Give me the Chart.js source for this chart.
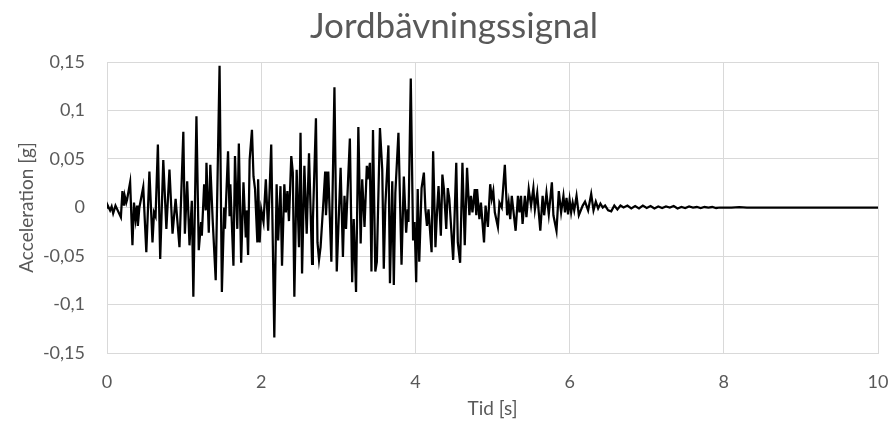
<!DOCTYPE html>
<html>
<head>
<meta charset="utf-8">
<script src="https://cdn.jsdelivr.net/npm/chart.js@4/dist/chart.umd.min.js"></script>
<style>
  html, body { margin: 0; padding: 0; background: #fff; }
  #wrap { width: 893px; height: 423px; }
</style>
</head>
<body>
<div id="wrap"><canvas id="chartSignal" width="893" height="423"></canvas></div>
<script>
/* =========================
   DATA
========================= */

// tid [s]
const timeS = [
  0.00, 0.01, 0.04, 0.06, 0.08, 0.11, 0.18, 0.20, 0.22, 0.23, 0.25, 0.26, 0.30, 0.33, 0.35, 0.37, 0.39, 0.40, 0.42, 0.47,
  0.51, 0.55, 0.59, 0.61, 0.63, 0.66, 0.69, 0.73, 0.77, 0.81, 0.85, 0.89, 0.94, 0.99, 1.01, 1.04, 1.07, 1.10, 1.12, 1.16,
  1.19, 1.22, 1.23, 1.26, 1.28, 1.29, 1.32, 1.34, 1.37, 1.41, 1.46, 1.49, 1.52, 1.53, 1.57, 1.59, 1.60, 1.64, 1.66, 1.69,
  1.71, 1.74, 1.77, 1.80, 1.81, 1.83, 1.85, 1.88, 1.90, 1.92, 1.95, 1.96, 1.98, 2.00, 2.03, 2.06, 2.09, 2.13, 2.17, 2.20,
  2.22, 2.25, 2.27, 2.30, 2.32, 2.34, 2.36, 2.39, 2.41, 2.43, 2.46, 2.49, 2.51, 2.53, 2.56, 2.59, 2.62, 2.66, 2.67, 2.71,
  2.73, 2.75, 2.77, 2.81, 2.83, 2.84, 2.87, 2.91, 2.95, 2.98, 3.03, 3.06, 3.08, 3.10, 3.15, 3.18, 3.20, 3.23, 3.26, 3.29,
  3.31, 3.34, 3.37, 3.38, 3.41, 3.43, 3.45, 3.48, 3.50, 3.54, 3.57, 3.59, 3.61, 3.65, 3.67, 3.70, 3.72, 3.74, 3.78, 3.82,
  3.85, 3.88, 3.90, 3.91, 3.94, 3.97, 3.99, 4.01, 4.03, 4.05, 4.08, 4.11, 4.13, 4.15, 4.17, 4.21, 4.23, 4.26, 4.28, 4.30,
  4.33, 4.35, 4.37, 4.40, 4.42, 4.44, 4.49, 4.53, 4.55, 4.58, 4.61, 4.64, 4.67, 4.70, 4.72, 4.74, 4.77, 4.79, 4.80, 4.83,
  4.85, 4.89, 4.91, 4.94, 4.97, 4.99, 5.01, 5.03, 5.07, 5.09, 5.12, 5.16, 5.19, 5.21, 5.23, 5.25, 5.30, 5.33, 5.35, 5.37,
  5.39, 5.42, 5.44, 5.47, 5.50, 5.53, 5.55, 5.58, 5.60, 5.62, 5.65, 5.67, 5.70, 5.73, 5.77, 5.79, 5.83, 5.86, 5.89, 5.92,
  5.94, 5.96, 5.98, 6.00, 6.02, 6.04, 6.06, 6.09, 6.12, 6.17, 6.20, 6.24, 6.28, 6.31, 6.34, 6.37, 6.40, 6.43, 6.46, 6.50,
  6.54, 6.58, 6.62, 6.66, 6.70, 6.75, 6.80, 6.85, 6.90, 6.95, 7.00, 7.05, 7.10, 7.15, 7.20, 7.25, 7.30, 7.35, 7.40, 7.45,
  7.50, 7.55, 7.60, 7.65, 7.70, 7.75, 7.80, 7.85, 7.90, 7.95, 8.00, 8.10, 8.20, 8.30, 8.40, 8.60, 8.80, 9.00, 9.20, 9.40,
  9.60, 9.80, 10.00
];

// acceleration [g]
const accelG = [
  0.000, 0.002, -0.003, 0.001, -0.006, 0.002, -0.010, 0.017, 0.002, 0.012, 0.005, 0.008, 0.026, -0.039, 0.005, -0.012, 0.002, -0.019, 0.000, 0.021,
  -0.046, 0.037, -0.036, -0.005, -0.009, 0.065, -0.053, 0.049, -0.022, 0.039, -0.027, 0.009, -0.041, 0.078, -0.027, 0.027, -0.039, 0.007, -0.092, 0.094,
  -0.044, -0.015, -0.029, 0.024, -0.003, 0.046, -0.026, 0.044, -0.012, -0.075, 0.146, -0.087, 0.000, -0.022, 0.058, -0.009, 0.024, -0.060, 0.053, -0.022,
  0.066, -0.057, 0.026, -0.031, -0.003, -0.049, 0.049, 0.080, 0.032, 0.019, -0.036, 0.029, -0.036, -0.002, -0.015, 0.029, -0.024, 0.065, -0.134, 0.024,
  -0.034, 0.022, -0.060, 0.024, -0.005, 0.017, -0.014, 0.053, 0.036, -0.092, 0.039, -0.041, 0.077, -0.068, 0.043, -0.027, 0.056, -0.058, -0.015, 0.092,
  -0.036, -0.054, -0.041, 0.010, 0.037, -0.008, 0.037, -0.056, 0.124, -0.066, 0.041, -0.051, 0.012, -0.022, 0.071, -0.077, -0.012, -0.087, 0.083, -0.037,
  0.029, -0.020, 0.043, 0.029, 0.046, -0.066, 0.080, -0.066, -0.056, 0.082, 0.039, -0.063, 0.002, 0.064, -0.078, 0.027, -0.080, 0.015, 0.077, -0.059,
  0.032, -0.026, -0.002, -0.015, 0.133, -0.034, -0.015, -0.077, 0.019, -0.056, 0.020, 0.036, -0.002, -0.019, -0.002, -0.046, 0.058, -0.041, -0.005, 0.022,
  -0.029, 0.034, 0.019, -0.022, 0.020, 0.009, -0.054, 0.046, -0.036, -0.057, 0.046, -0.039, 0.041, -0.008, 0.012, -0.005, 0.019, -0.008, 0.019, -0.012,
  0.005, -0.036, 0.002, -0.020, 0.024, 0.009, 0.017, -0.005, -0.020, 0.005, 0.000, 0.044, -0.008, 0.005, -0.012, 0.012, -0.024, 0.012, -0.005, 0.012,
  -0.017, 0.012, -0.010, 0.019, 0.002, 0.020, -0.002, 0.015, -0.005, -0.024, 0.012, -0.008, 0.015, -0.007, 0.026, -0.008, -0.024, 0.017, -0.005, 0.012,
  -0.005, 0.010, -0.007, 0.008, -0.005, 0.005, -0.003, 0.012, -0.008, 0.002, 0.006, -0.003, 0.014, -0.003, 0.006, -0.001, 0.004, 0.000, 0.002, -0.003,
  -0.004, 0.002, -0.002, 0.002, 0.000, 0.002, -0.001, 0.0015, -0.001, 0.002, -0.0005, 0.0015, -0.001, 0.001, -0.0005, 0.001, 0.000, 0.0015, -0.001, 0.0005,
  -0.0005, 0.001, 0.000, 0.0005, -0.0005, 0.0005, 0.000, 0.0005, -0.0005, 0.000, 0.000, 0.000, 0.0005, 0.000, 0.000, 0.000, 0.000, 0.000, 0.000, 0.000,
  0.000, 0.000, 0.000
];

// skalmarkeringar
const xTicks = [0, 2, 4, 6, 8, 10];
const yTicks = [-0.15, -0.1, -0.05, 0, 0.05, 0.1, 0.15];
const yTickLabels = ["-0,15", "-0,1", "-0,05", "0", "0,05", "0,1", "0,15"];

/* =========================
   CHART
========================= */

const textColor = "#595959";
const gridColor = "#d9d9d9";
const fontFamily = "Lato, 'Open Sans', sans-serif";

const points = timeS.map((t, i) => ({ x: t, y: accelG[i] }));

new Chart(document.getElementById("chartSignal"), {
  type: "line",
  data: {
    datasets: [
      {
        data: points,
        borderColor: "#000000",
        borderWidth: 2.25,
        pointRadius: 0,
        tension: 0,
        fill: false
      }
    ]
  },
  options: {
    responsive: false,
    animation: false,
    layout: { padding: { left: 15, right: 0, top: 0, bottom: 0 } },
    plugins: {
      legend: { display: false },
      tooltip: { enabled: false },
      title: {
        display: true,
        text: "Jordbävningssignal",
        color: textColor,
        font: { family: fontFamily, size: 35, weight: "normal" },
        padding: { top: 6, bottom: 14 }
      }
    },
    scales: {
      x: {
        type: "linear",
        min: 0,
        max: 10,
        afterBuildTicks: s => { s.ticks = xTicks.map(v => ({ value: v })); },
        afterFit: s => {
          s.height = 70;
          s.paddingLeft = 0;
          s.paddingRight = 15;
        },
        ticks: {
          color: textColor,
          font: { family: fontFamily, size: 18 },
          padding: 18,
          maxRotation: 0
        },
        grid: { color: gridColor, lineWidth: 1, drawTicks: false },
        border: { color: gridColor },
        title: {
          display: true,
          text: "Tid [s]",
          color: textColor,
          font: { family: fontFamily, size: 19 },
          padding: { top: 0, bottom: 3 }
        }
      },
      y: {
        min: -0.15,
        max: 0.15,
        afterBuildTicks: s => { s.ticks = yTicks.map(v => ({ value: v })); },
        afterFit: s => { s.width = 92; },
        ticks: {
          color: textColor,
          font: { family: fontFamily, size: 18 },
          padding: 22,
          callback: (v, i) => yTickLabels[i]
        },
        grid: { color: gridColor, lineWidth: 1, drawTicks: false },
        border: { color: gridColor },
        title: {
          display: true,
          text: "Acceleration [g]",
          color: textColor,
          font: { family: fontFamily, size: 19 },
          padding: { top: 0, bottom: 0 }
        }
      }
    }
  }
});
</script>
</body>
</html>
